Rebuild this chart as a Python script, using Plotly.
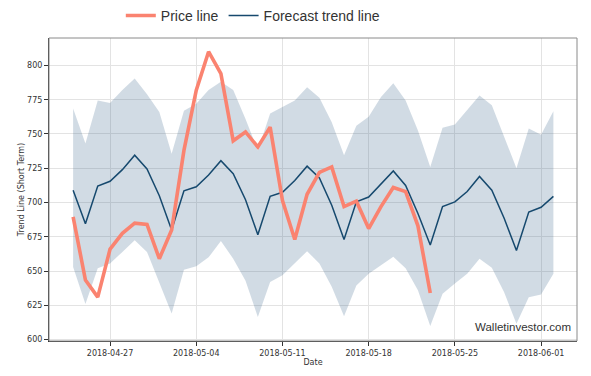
import pandas as pd
import plotly.graph_objects as go

# ---- data ----
forecast_dates = pd.date_range("2018-04-24", periods=40, freq="D")
forecast = [709, 684.5, 712, 715.5, 724, 734.5, 724.5, 705, 680, 708.5,
            711.5, 720, 730.5, 721, 702, 676.5, 704.5, 707.5, 716, 726.5,
            718, 698, 673, 700.5, 704, 713.5, 723, 712.5, 692, 669,
            697, 700.5, 708, 719, 709, 688.5, 665, 693, 696.5, 704.5]
upper = [768.5, 743, 774.5, 772.5, 782, 790.5, 779, 766, 735.5, 767,
         772, 782, 788, 782, 761, 738, 765, 769.5, 774.5, 784,
         776.5, 758.5, 734.5, 756, 762.5, 777, 787, 774.5, 752.5, 726,
         754.5, 757, 767.5, 778, 771, 747.5, 725, 754, 749.5, 766.5]
lower = [653, 626, 652, 655.5, 664, 672.5, 664, 641, 619, 651,
         653.5, 660, 672, 659, 643, 616.5, 642, 647, 655.5, 664.5,
         655.5, 638.5, 617, 639.5, 648, 654, 660.5, 652, 636, 610,
         633.5, 641, 648, 659, 652.5, 634.5, 611.5, 631, 633, 648]
price_dates = pd.date_range("2018-04-24", periods=30, freq="D")
price = [689.5, 643.5, 631, 666, 677.5, 685, 684, 659, 680, 738,
         782, 810, 794, 745, 751.5, 740.5, 755, 701.5, 673, 706,
         722, 726, 697, 701, 681, 697, 711, 708, 683, 634]
x_tick_vals = ["2018-04-27", "2018-05-04", "2018-05-11", "2018-05-18", "2018-05-25", "2018-06-01"]
y_tick_vals = [600, 625, 650, 675, 700, 725, 750, 775, 800]

fig = go.Figure()
fig.add_trace(go.Scatter(x=forecast_dates, y=upper, mode="lines",
                         line=dict(width=0, color="rgba(0,0,0,0)"),
                         showlegend=False, hoverinfo="skip"))
fig.add_trace(go.Scatter(x=forecast_dates, y=lower, mode="lines", fill="tonexty",
                         fillcolor="rgba(47,92,130,0.22)",
                         line=dict(width=0, color="rgba(0,0,0,0)"),
                         showlegend=False, hoverinfo="skip"))
fig.add_trace(go.Scatter(x=forecast_dates, y=forecast, mode="lines",
                         name="Forecast trend line", legendrank=2,
                         line=dict(color="#16496e", width=1.5)))
fig.add_trace(go.Scatter(x=price_dates, y=price, mode="lines",
                         name="Price line", legendrank=1,
                         line=dict(color="#fa8370", width=3.6)))

tick_font = dict(family="DejaVu Sans", size=8, color="#333333")
# the page body adds an 8px offset, so the figure is sized to the remaining area
fig.update_layout(
    width=583, height=368,
    margin=dict(l=41, r=14, t=30, b=35, autoexpand=False),
    paper_bgcolor="white", plot_bgcolor="white",
    showlegend=True,
    legend=dict(orientation="h", traceorder="normal", x=0.136, xanchor="left", y=1.073, yanchor="middle",
                font=dict(family="Liberation Sans", size=14, color="#333333"),
                itemwidth=30, bgcolor="rgba(0,0,0,0)"),
    xaxis=dict(range=["2018-04-22 01:00", "2018-06-03 22:00"],
               tickvals=x_tick_vals, tickformat="%Y-%m-%d",
               ticks="outside", ticklen=4, tickcolor="#333333", tickfont=tick_font,
               showgrid=True, gridcolor="#e3e3e3", gridwidth=1,
               showline=True, linecolor="#333333", linewidth=1, zeroline=False,
               title=dict(text="Date", font=tick_font, standoff=1)),
    yaxis=dict(range=[599, 820], tickvals=y_tick_vals,
               ticks="outside", ticklen=4, tickcolor="#333333", tickfont=tick_font,
               showgrid=True, gridcolor="#e3e3e3", gridwidth=1,
               showline=True, linecolor="#333333", linewidth=1, zeroline=False,
               title=dict(text="Trend Line (Short Term)", font=tick_font, standoff=1)),
)
fig.add_shape(type="rect", xref="paper", yref="paper", x0=0, y0=0, x1=1, y1=1,
              line=dict(color="#8a8a8a", width=1), fillcolor="rgba(0,0,0,0)", layer="above")
fig.add_annotation(text="Walletinvestor.com", xref="paper", yref="paper",
                   x=0.992, y=0.045, xanchor="right", yanchor="middle", showarrow=False,
                   font=dict(family="Liberation Sans", size=11.5, color="#333333"))
fig.write_html("out.html")
